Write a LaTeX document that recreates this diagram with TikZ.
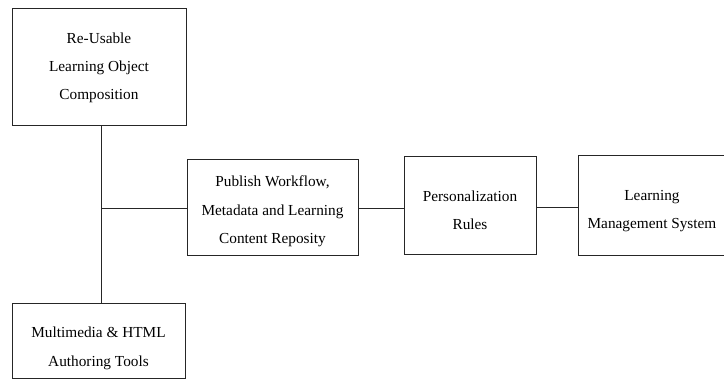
\documentclass[tikz,border=0pt]{standalone}
\usepackage{fontspec}
\setmainfont{Liberation Serif}
% a strut on the first line lowers the text block inside its frame
\newcommand{\lowerby}[1]{\rule{0pt}{#1}}
\begin{document}
\begin{tikzpicture}[x=1pt,y=-1pt,
  box/.style={draw=black!85, line width=0.9pt, fill=white, align=center,
    font=\fontsize{15.3}{28.3}\selectfont, inner sep=0pt},
  link/.style={draw=black!85, line width=0.9pt}]
\useasboundingbox (0,0) rectangle (724,379);
\clip (0,0) rectangle (724,379);
% components
\node[box, minimum width=174, minimum height=117] (rlo) at (99,66.5)
  {\lowerby{13.5pt}Re-Usable\\Learning Object\\Composition};
\node[box, minimum width=173, minimum height=75] (mm) at (98.5,340.5)
  {\lowerby{26.5pt}Multimedia \& HTML\\Authoring Tools};
\node[box, minimum width=171, minimum height=96] (pub) at (272.5,207)
  {\lowerby{19.5pt}Publish Workflow,\\Metadata and Learning\\Content Reposity};
\node[box, minimum width=132, minimum height=98] (pers) at (470,205)
  {\lowerby{20.5pt}Personalization\\Rules};
\node[box, minimum width=148, minimum height=100] (lms) at (652,205)
  {\lowerby{22.5pt}Learning\\Management System};
% junction of the authoring branch and the levels of the flow lines
\coordinate (j) at (101,208);
\coordinate (k) at (0,207);
\draw[link] (rlo.south -| j) -- (mm.north -| j);
\draw[link] (j) -- (pub.west |- j);
\draw[link] (pub.east |- j) -- (pers.west |- j);
\draw[link] (pers.east |- k) -- (lms.west |- k);
\end{tikzpicture}
\end{document}
